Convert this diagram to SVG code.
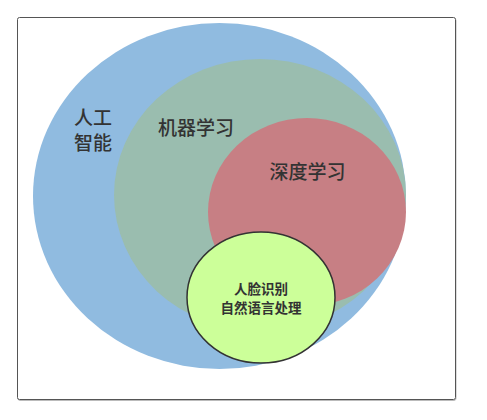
<svg xmlns="http://www.w3.org/2000/svg" width="487" height="420" viewBox="0 0 487 420">
<style>
.lbl{font-family:"Noto Sans CJK SC","Noto Sans",sans-serif;fill:#333;text-anchor:middle}
.big{font-size:19px;font-weight:500}
.small{font-size:13.5px;font-weight:700}
</style>
<rect width="487" height="420" fill="#fff"/>
<g id="frame">
<rect x="18" y="18.5" width="438" height="382" rx="2" fill="none" stroke="#bbb" stroke-width="1"/>
<rect x="17.5" y="17.5" width="438" height="382" rx="2" fill="#fff" stroke="#555" stroke-width="1"/>
</g>
<g id="ai">
<ellipse cx="219.5" cy="196" rx="186.5" ry="173" fill="#90bbe0"/>
</g>
<g id="ml">
<ellipse cx="260" cy="195" rx="146" ry="136" fill="#9abdaf"/>
</g>
<g id="dl">
<ellipse cx="307" cy="212" rx="99" ry="94" fill="#c77f84"/>
</g>
<g id="apps">
<ellipse cx="261" cy="297.5" rx="74" ry="65.5" fill="#ccff99" stroke="#333" stroke-width="1.5"/>
</g>
<g id="labels">
<text class="lbl big" x="93" y="125">人工<tspan x="93" dy="25">智能</tspan></text>
<text class="lbl big" x="196" y="135">机器学习</text>
<text class="lbl big" x="307.5" y="179">深度学习</text>
<text class="lbl small" x="261" y="293.5">人脸识别<tspan x="261" dy="19.7">自然语言处理</tspan></text>
</g>
</svg>
